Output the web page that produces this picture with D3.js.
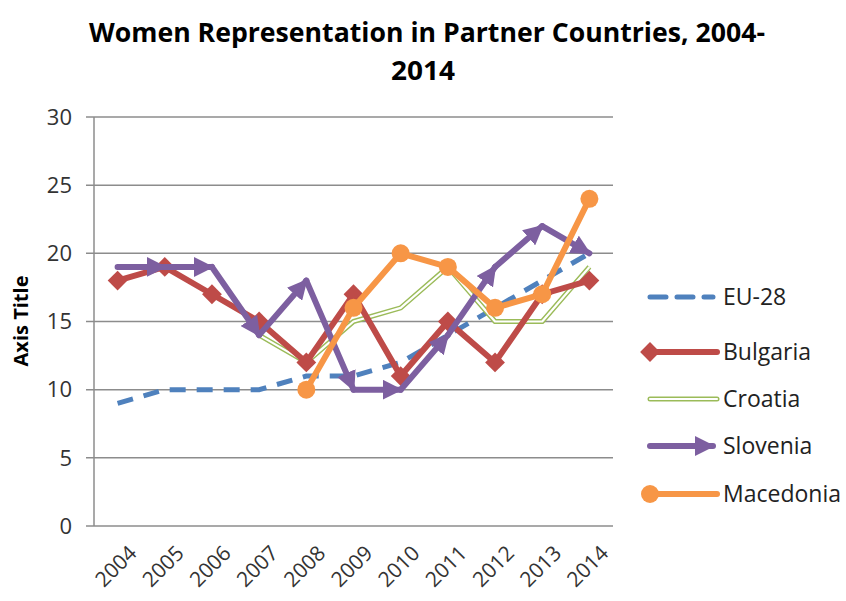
<!DOCTYPE html>
<html>
<head>
<meta charset="utf-8">
<script src="https://cdn.jsdelivr.net/npm/d3@7"></script>
<style>
  body { margin: 0; background: #fff; }
  text { font-family: "Open Sans", sans-serif; }
</style>
</head>
<body>
<div id="chart"></div>
<script>
const width = 846, height = 601;
const margin = { top: 117, right: 233, bottom: 75, left: 94 };

const years = ['2004', '2005', '2006', '2007', '2008', '2009', '2010', '2011', '2012', '2013', '2014'];
const yTicks = [0, 5, 10, 15, 20, 25, 30];

const eu28 = [9, 10, 10, 10, 11, 11, 12, 14, 16, 18, 20];
const bulgaria = [18, 19, 17, 15, 12, 17, 11, 15, 12, 17, 18];
const croatia = [null, null, null, 14, 12, 15, 16, 19, 15, 15, 19];
const slovenia = [19, 19, 19, 14, 18, 10, 10, 14, 19, 22, 20];
const macedonia = [null, null, null, null, 10, 16, 20, 19, 16, 17, 24];

const seriesNames = ['EU-28', 'Bulgaria', 'Croatia', 'Slovenia', 'Macedonia'];
const colors = {
    'EU-28': '#4f81bd',
    'Bulgaria': '#be4b48',
    'Croatia': '#9bbb59',
    'Slovenia': '#7d5fa0',
    'Macedonia': '#f79646'
};

const svg = d3.select('#chart').append('svg')
    .attr('width', width)
    .attr('height', height);

const defs = svg.append('defs');
defs.append('marker')
    .attr('id', 'arrow')
    .attr('viewBox', '0 0 10 10')
    .attr('refX', 9)
    .attr('refY', 5)
    .attr('markerUnits', 'userSpaceOnUse')
    .attr('markerWidth', 20)
    .attr('markerHeight', 20)
    .attr('orient', 'auto')
    .append('path')
    .attr('d', 'M0,0L10,5L0,10Z')
    .attr('fill', colors['Slovenia']);

const x = d3.scalePoint()
    .domain(years)
    .range([margin.left, width - margin.right])
    .padding(0.5);

const y = d3.scaleLinear()
    .domain([0, 30])
    .range([height - margin.bottom, margin.top]);

// title
const title = svg.append('g')
    .attr('font-weight', 'bold')
    .attr('font-size', 26)
    .attr('fill', '#000')
    .attr('text-anchor', 'middle');
title.append('text').attr('x', 427).attr('y', 42)
    .attr('textLength', 676).attr('lengthAdjust', 'spacingAndGlyphs')
    .text('Women Representation in Partner Countries, 2004-');
title.append('text').attr('x', 423).attr('y', 80)
    .attr('textLength', 64).attr('lengthAdjust', 'spacingAndGlyphs')
    .text('2014');

// gridlines
svg.append('g')
    .selectAll('line')
    .data(yTicks)
    .enter().append('line')
    .attr('x1', margin.left - 8)
    .attr('x2', width - margin.right)
    .attr('y1', d => y(d))
    .attr('y2', d => y(d))
    .attr('stroke', '#8c8c8c')
    .attr('stroke-width', 1.5);

// y axis
svg.append('line')
    .attr('x1', margin.left).attr('x2', margin.left)
    .attr('y1', y(30)).attr('y2', y(0))
    .attr('stroke', '#8c8c8c')
    .attr('stroke-width', 1.5);

svg.append('g')
    .selectAll('text')
    .data(yTicks)
    .enter().append('text')
    .attr('x', 72)
    .attr('y', d => y(d))
    .attr('dy', '0.35em')
    .attr('text-anchor', 'end')
    .attr('font-size', 22)
    .attr('fill', '#333')
    .text(d => d);

svg.append('text')
    .attr('transform', 'translate(28,321) rotate(-90)')
    .attr('text-anchor', 'middle')
    .attr('font-weight', 'bold')
    .attr('font-size', 20)
    .attr('fill', '#000')
    .text('Axis Title');

// x labels
svg.append('g')
    .selectAll('text')
    .data(years)
    .enter().append('text')
    .attr('transform', d => 'translate(' + (x(d) + 10) + ',' + (y(0) + 18) + ') rotate(-45)')
    .attr('text-anchor', 'end')
    .attr('dy', '0.7em')
    .attr('font-size', 21)
    .attr('fill', '#333')
    .text(d => d);

const line = d3.line()
    .defined(d => d.v != null)
    .x(d => x(d.year))
    .y(d => y(d.v));

const pts = vals => years.map((yr, i) => ({ year: yr, v: vals[i] }));

// EU-28
svg.append('path')
    .datum(pts(eu28))
    .attr('d', line)
    .attr('fill', 'none')
    .attr('stroke', colors['EU-28'])
    .attr('stroke-width', 5)
    .attr('stroke-dasharray', '16,11');

// Croatia: double line
const croatiaPath = line(pts(croatia));
svg.append('path').attr('d', croatiaPath).attr('fill', 'none')
    .attr('stroke', colors['Croatia']).attr('stroke-width', 5).attr('stroke-linejoin', 'round');
svg.append('path').attr('d', croatiaPath).attr('fill', 'none')
    .attr('stroke', '#fff').attr('stroke-width', 2.2).attr('stroke-linejoin', 'round');

// Bulgaria
svg.append('path')
    .datum(pts(bulgaria))
    .attr('d', line)
    .attr('fill', 'none')
    .attr('stroke', colors['Bulgaria'])
    .attr('stroke-width', 6);
svg.append('g')
    .selectAll('path')
    .data(pts(bulgaria))
    .enter().append('path')
    .attr('transform', d => 'translate(' + x(d.year) + ',' + y(d.v) + ') rotate(45)')
    .attr('d', 'M-7,-7H7V7H-7Z')
    .attr('fill', colors['Bulgaria']);

// Slovenia: arrow at the end of each segment
const slo = pts(slovenia);
svg.append('g')
    .selectAll('line')
    .data(d3.pairs(slo))
    .enter().append('line')
    .attr('x1', d => x(d[0].year))
    .attr('y1', d => y(d[0].v))
    .attr('x2', d => x(d[1].year))
    .attr('y2', d => y(d[1].v))
    .attr('stroke', colors['Slovenia'])
    .attr('stroke-width', 6)
    .attr('stroke-linecap', 'round')
    .attr('marker-end', 'url(#arrow)');

// Macedonia
svg.append('path')
    .datum(pts(macedonia))
    .attr('d', line)
    .attr('fill', 'none')
    .attr('stroke', colors['Macedonia'])
    .attr('stroke-width', 6);
svg.append('g')
    .selectAll('circle')
    .data(pts(macedonia).filter(d => d.v != null))
    .enter().append('circle')
    .attr('cx', d => x(d.year))
    .attr('cy', d => y(d.v))
    .attr('r', 9)
    .attr('fill', colors['Macedonia']);

// legend
const legendY = [297, 352, 399, 446, 494];
const lg = svg.append('g');
seriesNames.forEach((name, i) => {
    const g = lg.append('g').attr('transform', 'translate(0,' + legendY[i] + ')');
    const x1 = 650, x2 = 717;
    if (name === 'EU-28') {
        g.append('line').attr('x1', x1).attr('x2', x2 - 4)
            .attr('stroke', colors[name]).attr('stroke-width', 5)
            .attr('stroke-dasharray', '16,11').attr('stroke-linecap', 'round');
    } else if (name === 'Croatia') {
        g.append('line').attr('x1', x1).attr('x2', x2)
            .attr('stroke', colors[name]).attr('stroke-width', 5).attr('stroke-linecap', 'round');
        g.append('line').attr('x1', x1).attr('x2', x2)
            .attr('stroke', '#fff').attr('stroke-width', 2.2).attr('stroke-linecap', 'round');
    } else if (name === 'Slovenia') {
        g.append('line').attr('x1', x1).attr('x2', x2 - 4)
            .attr('stroke', colors[name]).attr('stroke-width', 6).attr('stroke-linecap', 'round')
            .attr('marker-end', 'url(#arrow)');
    } else {
        g.append('line').attr('x1', x1).attr('x2', x2)
            .attr('stroke', colors[name]).attr('stroke-width', 6).attr('stroke-linecap', 'round');
        if (name === 'Bulgaria') {
            g.append('path').attr('transform', 'translate(' + x1 + ',0) rotate(45)')
                .attr('d', 'M-7,-7H7V7H-7Z').attr('fill', colors[name]);
        } else {
            g.append('circle').attr('cx', x1).attr('r', 9).attr('fill', colors[name]);
        }
    }
    g.append('text')
        .attr('x', 723)
        .attr('dy', '0.35em')
        .attr('font-size', 23)
        .attr('fill', '#222')
        .text(name);
});
</script>
</body>
</html>
